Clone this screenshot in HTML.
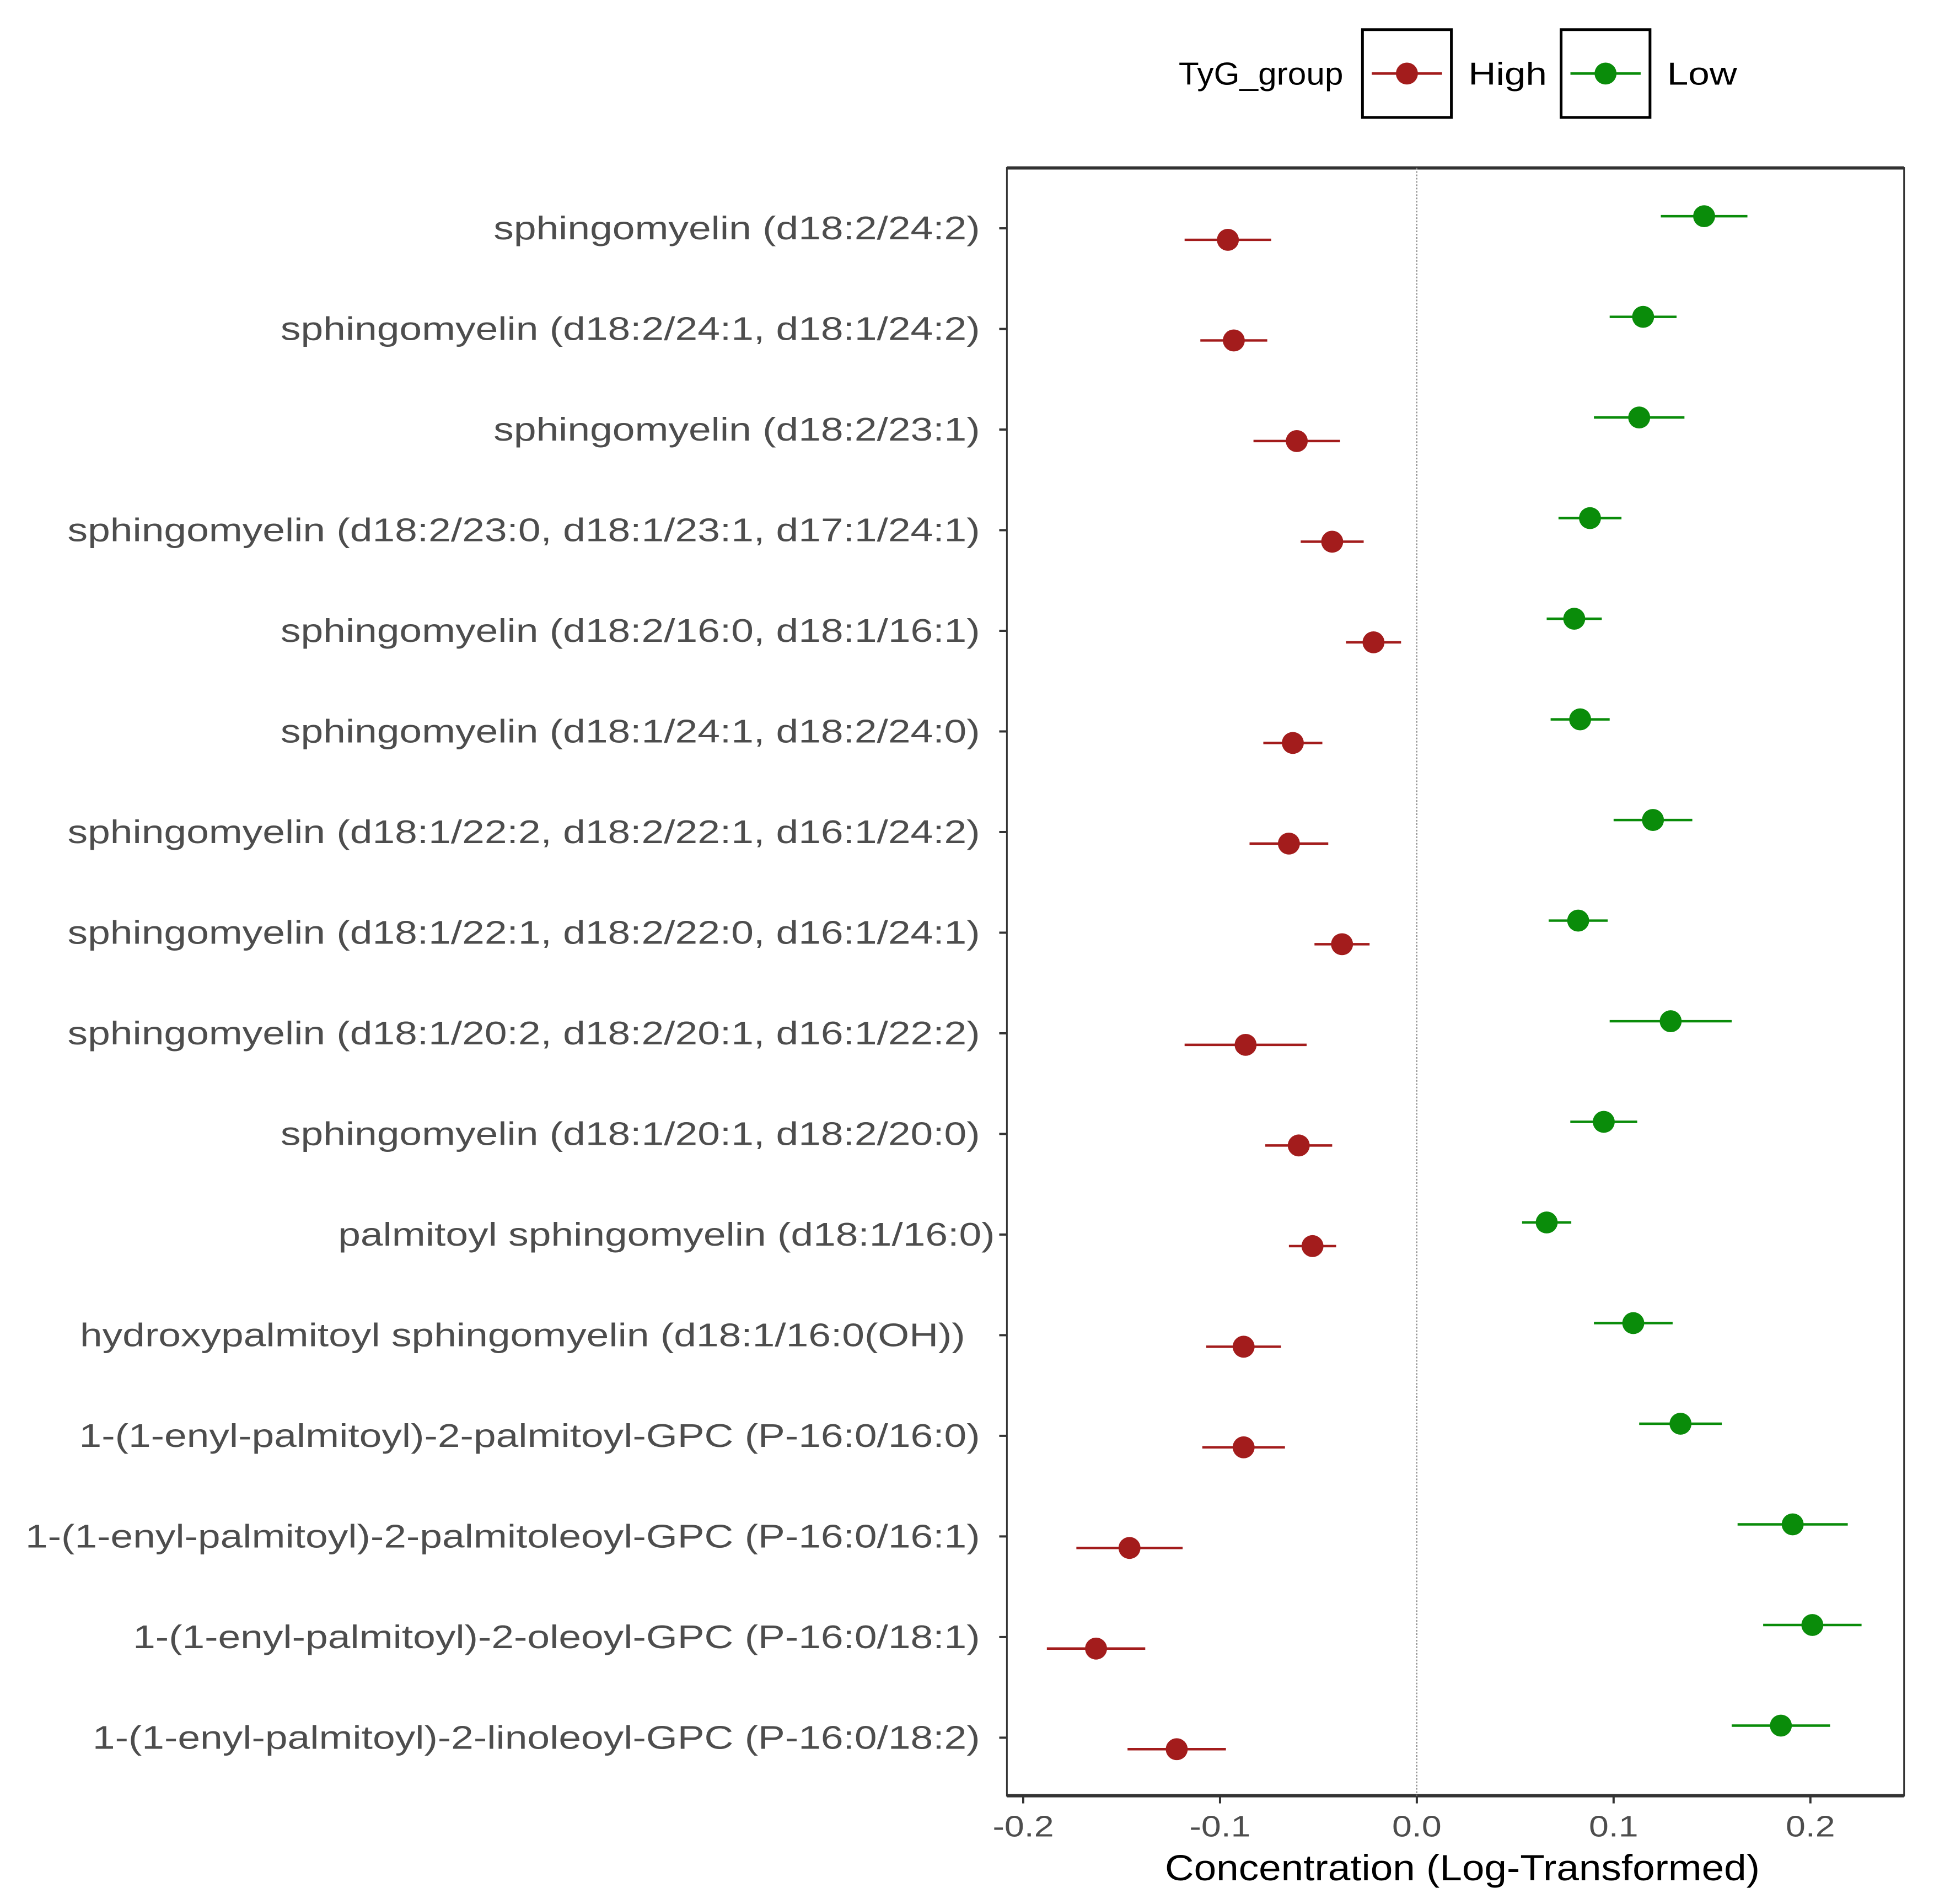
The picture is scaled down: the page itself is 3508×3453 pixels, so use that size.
<!DOCTYPE html>
<html><head><meta charset="utf-8"><style>
html,body{margin:0;padding:0;background:#fff;}
svg{display:block;font-family:"Liberation Sans",Arial,sans-serif;}
</style></head><body>
<svg id="chart" width="3508" height="3453" viewBox="0 0 3508 3453" xmlns="http://www.w3.org/2000/svg">
<rect width="3508" height="3453" fill="#fff"/>
<g transform="scale(0.9953)">
<g id="legend">
  <text x="2148" y="154" font-size="58" fill="#000" textLength="300" lengthAdjust="spacingAndGlyphs">TyG_group</text>
  <rect x="2483" y="54" width="162" height="160" fill="#fff" stroke="#000" stroke-width="5"/>
  <line x1="2500" y1="134" x2="2628" y2="134" stroke="#a31c1c" stroke-width="4.5"/>
  <circle cx="2564" cy="134" r="20" fill="#a31c1c"/>
  <text transform="translate(2676,154) scale(1.2,1)" font-size="58" fill="#000">High</text>
  <rect x="2845" y="54" width="162" height="160" fill="#fff" stroke="#000" stroke-width="5"/>
  <line x1="2862" y1="134" x2="2990" y2="134" stroke="#0a8c0a" stroke-width="4.5"/>
  <circle cx="2926" cy="134" r="20" fill="#0a8c0a"/>
  <text transform="translate(3038,154) scale(1.2,1)" font-size="58" fill="#000">Low</text>
</g>
<g id="plot"></g>
</g>
</svg>
<script>
const categories = [
"sphingomyelin (d18:2/24:2)",
"sphingomyelin (d18:2/24:1, d18:1/24:2)",
"sphingomyelin (d18:2/23:1)",
"sphingomyelin (d18:2/23:0, d18:1/23:1, d17:1/24:1)",
"sphingomyelin (d18:2/16:0, d18:1/16:1)",
"sphingomyelin (d18:1/24:1, d18:2/24:0)",
"sphingomyelin (d18:1/22:2, d18:2/22:1, d16:1/24:2)",
"sphingomyelin (d18:1/22:1, d18:2/22:0, d16:1/24:1)",
"sphingomyelin (d18:1/20:2, d18:2/20:1, d16:1/22:2)",
"sphingomyelin (d18:1/20:1, d18:2/20:0)",
"palmitoyl sphingomyelin (d18:1/16:0)",
"hydroxypalmitoyl sphingomyelin (d18:1/16:0(OH))  ",
"1-(1-enyl-palmitoyl)-2-palmitoyl-GPC (P-16:0/16:0)",
"1-(1-enyl-palmitoyl)-2-palmitoleoyl-GPC (P-16:0/16:1)",
"1-(1-enyl-palmitoyl)-2-oleoyl-GPC (P-16:0/18:1)",
"1-(1-enyl-palmitoyl)-2-linoleoyl-GPC (P-16:0/18:2)"
];
const highMean = [-0.096,-0.093,-0.061,-0.043,-0.022,-0.063,-0.065,-0.038,-0.087,-0.060,-0.053,-0.088,-0.088,-0.146,-0.163,-0.122];
const highErr  = [0.022,0.017,0.022,0.016,0.014,0.015,0.020,0.014,0.031,0.017,0.012,0.019,0.021,0.027,0.025,0.025];
const lowMean  = [0.146,0.115,0.113,0.088,0.080,0.083,0.120,0.082,0.129,0.095,0.066,0.110,0.134,0.191,0.201,0.185];
const lowErr   = [0.022,0.017,0.023,0.016,0.014,0.015,0.020,0.015,0.031,0.017,0.0125,0.020,0.021,0.028,0.025,0.025];
const xTicks = [-0.2,-0.1,0.0,0.1,0.2];
const xTickLabels = ["-0.2","-0.1","0.0","0.1","0.2"];

const NS="http://www.w3.org/2000/svg";
const L=1835,R=3470,T=306,B=3272;
const xMin=-0.2083,xMax=0.2476;
function xs(v){return L+(v-xMin)/(xMax-xMin)*(R-L);}
const y0=416,step=183.35;
function ys(i){return y0+i*step;}
const plot=document.getElementById('plot');
function mk(tag,attrs,parent){const e=document.createElementNS(NS,tag);for(const k in attrs)e.setAttribute(k,attrs[k]);(parent||plot).appendChild(e);return e;}

const panel=mk('rect',{x:L,y:T,width:R-L,height:B-T,fill:'#fff',stroke:'#333',"stroke-width":3});


mk('line',{x1:L,y1:T,x2:R,y2:T,stroke:'#333',"stroke-width":6});
mk('line',{x1:L,y1:B,x2:R,y2:B,stroke:'#333',"stroke-width":6});
const zl=mk('line',{x1:xs(0),y1:T,x2:xs(0),y2:B,stroke:'#888',"stroke-width":2,"stroke-dasharray":"3,3"});



xTicks.forEach((v,i)=>{
  const x=xs(v);
  const tk=mk('line',{x1:x,y1:B,x2:x,y2:B+14,stroke:'#333',"stroke-width":4});
  
  
  const t=mk('text',{transform:`translate(${x},3346) scale(1.2,1)`,"font-size":54,fill:'#4d4d4d',"text-anchor":'middle'});
  t.textContent=xTickLabels[i];
  
  
});
const xt=mk('text',{transform:`translate(2665,3426) scale(1.11,1)`,"font-size":66,fill:'#000',"text-anchor":'middle'});
xt.textContent="Concentration (Log-Transformed)";



categories.forEach((c,i)=>{
  const y=ys(i);
  const tk=mk('line',{x1:L-14,y1:y,x2:L,y2:y,stroke:'#333',"stroke-width":4});
  
  
  let ex=1786; if(i===10) ex=1813; if(i===11) ex=1759;
  const t=mk('text',{transform:`translate(${ex},${y+20}) scale(1.225,1)`,"font-size":60,fill:'#4d4d4d',"text-anchor":'end'});
  t.textContent=c.trim();
  
  
});

function series(means,errs,color,dy,name){
  means.forEach((m,i)=>{
    const y=ys(i)+dy;
    const g=mk('g',{});
    
    
    mk('line',{x1:xs(m-errs[i]),y1:y,x2:xs(m+errs[i]),y2:y,stroke:color,"stroke-width":4.5},g);
    mk('circle',{cx:xs(m),cy:y,r:20,fill:color},g);
  });
}
series(highMean,highErr,'#a31c1c',21,'high');
series(lowMean,lowErr,'#0a8c0a',-22,'low');
</script>
</body></html>
